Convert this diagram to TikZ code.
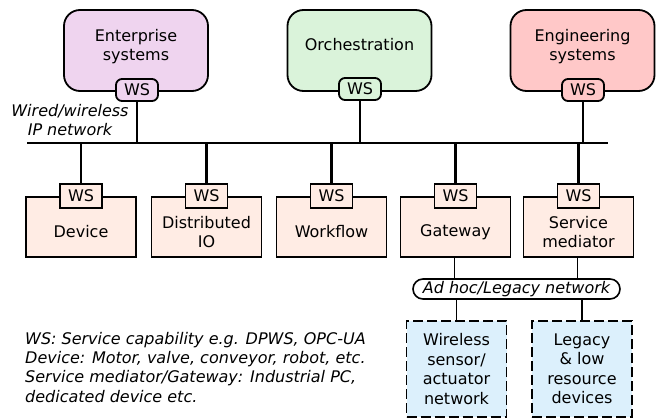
\documentclass[tikz,border=0pt]{standalone}
\usepackage{fontspec}
\setmainfont{DejaVu Sans}
\definecolor{entcol}{RGB}{239,212,239}
\definecolor{orchcol}{RGB}{218,243,218}
\definecolor{engcol}{RGB}{255,200,200}
\definecolor{devcol}{RGB}{255,236,228}
\definecolor{legcol}{RGB}{220,240,252}
\tikzset{
  sysbox/.style={draw, line width=1.8pt, rounded corners=16pt, minimum width=144pt, minimum height=81pt, inner sep=0pt},
  wstop/.style={draw, line width=1.8pt, rounded corners=6pt, minimum width=42pt, minimum height=22pt, inner sep=0pt},
  wsbot/.style={draw, line width=1.8pt, fill=devcol, minimum width=42pt, minimum height=24pt, inner sep=0pt},
  devbox/.style={draw, line width=1.8pt, fill=devcol, minimum width=110pt, minimum height=60pt, inner sep=0pt},
  legbox/.style={draw, line width=1.8pt, fill=legcol, dash pattern=on 10pt off 4pt, minimum width=100pt, minimum height=96pt, inner sep=0pt},
  txt/.style={align=center, inner sep=0pt},
  bus/.style={line width=2.6pt},
  drop/.style={line width=2.6pt},
  link/.style={line width=1.6pt}
}
\begin{document}
\begin{tikzpicture}[x=1pt, y=-1pt, font=\fontsize{16}{19.5}\selectfont]
\useasboundingbox (0,0) rectangle (657,418);
% upper systems
\node[sysbox, fill=entcol] (ent) at (136,50.5) {};
\node[sysbox, fill=orchcol] (orch) at (359.5,50.5) {};
\node[sysbox, fill=engcol] (eng) at (582.5,50.5) {};
\node[txt] (entT) at ([yshift=4]ent.center) {Enterprise\\systems};
\node[txt] (orchT) at ([yshift=6]orch.center) {Orchestration};
\node[txt] (engT) at ([yshift=4]eng.center) {Engineering\\systems};
\node[wstop, fill=entcol] (entWS) at (137,90) {WS};
\node[wstop, fill=orchcol] (orchWS) at (360,89) {WS};
\node[wstop, fill=engcol] (engWS) at (583,90) {WS};
% IP network
\coordinate (busL) at (27,143);
\coordinate (busR) at (608,143);
\draw[bus] (busL) -- (busR);
\node[txt, font=\fontsize{16}{19.5}\selectfont\itshape] (ipT) at (70,120) {Wired/wireless\\IP network};
\draw[drop] (entWS.south) -- (entWS.south |- busL);
\draw[drop] (orchWS.south) -- (orchWS.south |- busL);
\draw[drop] (engWS.south) -- (engWS.south |- busL);
% field level
\node[devbox] (dev) at (81,227) {};
\node[devbox] (dio) at (206.5,227) {};
\node[devbox] (wf) at (331.5,227) {};
\node[devbox] (gw) at (455.5,227) {};
\node[devbox] (sm) at (578.5,227) {};
\foreach \n/\t in {dev/Device, dio/Distributed\\IO, wf/Workflow, gw/Gateway, sm/Service\\mediator}{
  \node[txt] (\n T) at ([yshift=-5]\n.center) {\t};
  \node[wsbot] (\n WS) at (\n.north) {WS};
  \draw[drop] (\n WS.north) -- (\n WS.north |- busL);
}
% ad hoc network
\node[draw, line width=1.6pt, rounded corners=10pt, fill=white, minimum width=207pt, minimum height=20pt, inner sep=0pt,
  font=\fontsize{16}{19.5}\selectfont\itshape] (adhoc) at (516.5,289) {Ad hoc/Legacy network};
\draw[link] ([xshift=-1]gw.south) -- ([xshift=-1]gw.south |- adhoc.north);
\draw[link] ([xshift=-1]sm.south) -- ([xshift=-1]sm.south |- adhoc.north);
\node[legbox] (wsn) at (456.5,369) {};
\node[legbox] (leg) at (582,369) {};
\node[txt] (wsnT) at (wsn.center) {Wireless\\sensor/\\actuator\\network};
\node[txt] (legT) at (leg.center) {Legacy\\\& low\\resource\\devices};
\draw[link] (wsn.north |- adhoc.south) -- (wsn.north);
\draw[link] (leg.north |- adhoc.south) -- (leg.north);
% legend
\node[anchor=north west, align=left, inner sep=0pt, font=\fontsize{16}{19.3}\selectfont\itshape] (note) at (25,332)
  {WS: Service capability e.g. DPWS, OPC-UA\\Device: Motor, valve, conveyor, robot, etc.\\Service mediator/Gateway: Industrial PC,\\dedicated device etc.};
\end{tikzpicture}
\end{document}
